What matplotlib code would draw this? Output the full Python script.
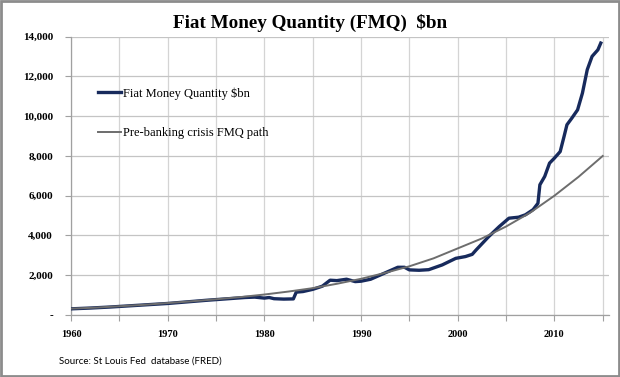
import matplotlib
matplotlib.use("Agg")
import matplotlib.pyplot as plt
from matplotlib.patches import Rectangle
from matplotlib.ticker import MultipleLocator, FuncFormatter

# FMQ series, $bn
fmq_years = [1960, 1962, 1964, 1966, 1968, 1970, 1972, 1974, 1976, 1978,
             1979, 1980, 1980.5, 1981, 1982, 1983, 1983.3, 1984, 1985, 1986,
             1986.8, 1987.5, 1988.5, 1989.4, 1990, 1991, 1992.4, 1993.8, 1994.5, 1995,
             1996, 1997, 1998.4, 1999.8, 2000.8, 2001.5, 2001.9, 2003.2, 2004.3, 2005.3,
             2006.3, 2007, 2007.8, 2008.3, 2008.5, 2009, 2009.5, 2010, 2010.6, 2011,
             2011.3, 2011.8, 2012.4, 2012.9, 2013.4, 2013.9, 2014.5, 2014.8]
fmq_values = [310, 350, 400, 460, 520, 580, 660, 740, 810, 880,
              900, 850, 880, 820, 800, 810, 1150, 1180, 1290, 1450,
              1750, 1730, 1800, 1680, 1700, 1800, 2100, 2400, 2400, 2270,
              2250, 2280, 2520, 2850, 2940, 3050, 3270, 3940, 4450, 4870,
              4920, 5040, 5300, 5620, 6550, 6970, 7640, 7890, 8220, 8980,
              9570, 9900, 10320, 11160, 12340, 13010, 13340, 13680]

# pre-banking crisis path
path_years = [1960, 1962.5, 1965, 1967.5, 1970, 1972.5, 1975, 1977.5, 1980, 1982.5,
              1985, 1987.5, 1990, 1992.5, 1995, 1997.5, 2000, 2002.5, 2005, 2007.5,
              2010, 2012.5, 2015]
path_values = [320, 370, 440, 510, 600, 690, 790, 900, 1030, 1180,
               1350, 1570, 1820, 2120, 2450, 2850, 3350, 3850, 4450, 5150,
               6000, 6950, 8000]

serif = "Liberation Serif"

fig = plt.figure(figsize=(6.2, 3.77), dpi=100)
ax = fig.add_axes([71 / 620, 1 - 315 / 377, (609 - 71) / 620, (315 - 36.7) / 377])

ax.plot(fmq_years, fmq_values, color="#172a5c", linewidth=2.4,
        solid_joinstyle="round", label="Fiat Money Quantity $bn", zorder=3)
ax.plot(path_years, path_values, color="#6d6d6d", linewidth=1.4,
        label="Pre-banking crisis FMQ path", zorder=4)

ax.set_xlim(1960, 2015.65)
ax.set_ylim(0, 14000)
ax.xaxis.set_major_locator(MultipleLocator(10))
ax.xaxis.set_minor_locator(MultipleLocator(5))
ax.yaxis.set_major_locator(MultipleLocator(2000))
ax.yaxis.set_major_formatter(FuncFormatter(lambda v, p: "-" if v == 0 else f"{int(v):,}"))

ax.grid(True, which="both", axis="x", color="#d4d4d4", linewidth=0.9)
ax.grid(True, which="major", axis="y", color="#c4c4c4", linewidth=0.9)
ax.set_axisbelow(True)

for s in ["top", "right"]:
    ax.spines[s].set_visible(False)
for s in ["left", "bottom"]:
    ax.spines[s].set_color("#a0a0a0")
    ax.spines[s].set_linewidth(0.9)

ax.tick_params(axis="both", which="both", direction="out", length=4,
               color="#a0a0a0", width=0.8)
ax.tick_params(axis="x", which="major", pad=7)
ax.tick_params(axis="y", pad=9)
for lab in ax.get_xticklabels():
    lab.set_fontfamily(serif)
    lab.set_fontsize(7.5)
    lab.set_fontweight("bold")
for lab in ax.get_yticklabels():
    lab.set_fontfamily(serif)
    lab.set_fontsize(8)
    lab.set_fontweight("bold")

leg = ax.legend(loc="upper left", bbox_to_anchor=(98 / 620, 1 - 87 / 377),
                bbox_transform=fig.transFigure, frameon=False, borderpad=0,
                borderaxespad=0, handlelength=1.85, handletextpad=0.15,
                labelspacing=2.2, prop={"family": serif, "size": 9})

fig.text(0.5, 1 - 23 / 377, "Fiat Money Quantity (FMQ)  $bn", ha="center", va="center",
         fontfamily=serif, fontsize=13.8, fontweight="bold")
fig.text(59 / 620, 1 - 361 / 377, "Source: St Louis Fed  database (FRED)",
         ha="left", va="center", fontfamily="Lato", fontsize=7)

fig.patches.append(Rectangle((0.0015, 0.0025), 0.997, 0.995, transform=fig.transFigure,
                             fill=False, edgecolor="#8c8c8c", linewidth=2))

fig.savefig("out.png", dpi=100)
